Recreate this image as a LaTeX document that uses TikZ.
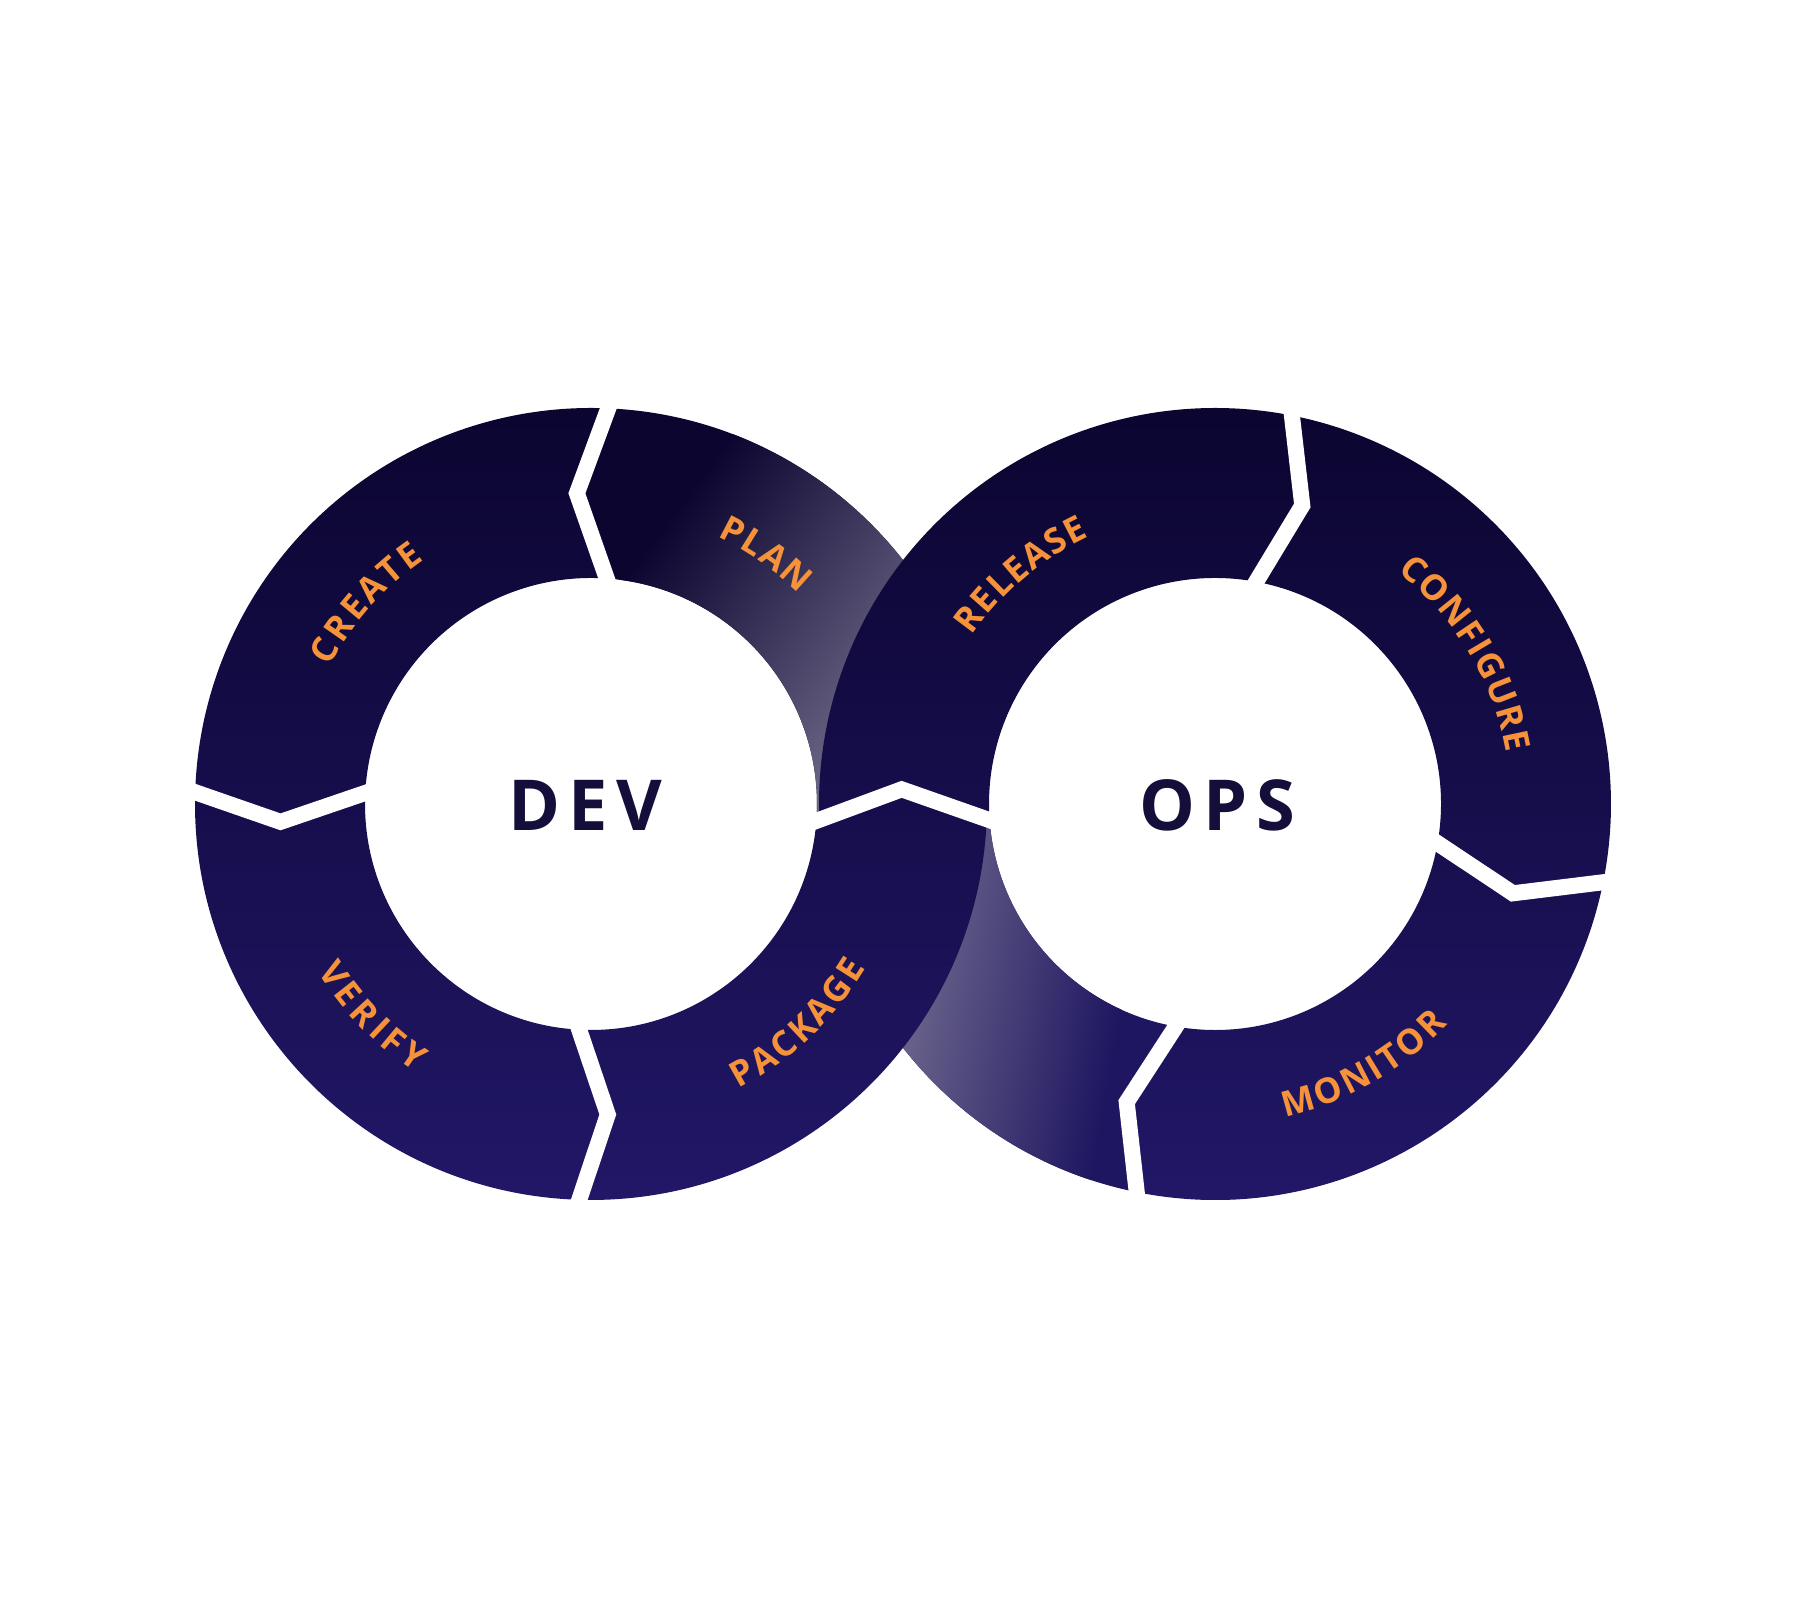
\documentclass[tikz,border=0pt]{standalone}
\usepackage{fontspec}
\setmainfont{Open Sans}
\newfontfamily\hubfont[LetterSpace=12]{Open Sans}
\usepackage{tikz}
\usetikzlibrary{calc}
\usetikzlibrary{decorations.text}
\usepackage{xcolor}

\definecolor{ringtop}{HTML}{0B0530}
\definecolor{ringmid}{HTML}{0C0633}
\definecolor{ringbot}{HTML}{211767}
\definecolor{planlight}{HTML}{7D7795}
\definecolor{backlight}{HTML}{6A648C}
\definecolor{backdark}{HTML}{1E1660}
\definecolor{lblorange}{HTML}{F5923A}
\definecolor{hubtext}{HTML}{140E3A}

\newcommand{\Ro}{3.96}
\newcommand{\Ri}{2.26}
\newcommand{\Rm}{3.11}
\newcommand{\labelfont}{\bfseries\fontsize{10}{12}\selectfont}
% piece of a ring between two chevron cuts (outer, middle, inner angles)
\newcommand{\ringpiece}[7]{([shift={(#1)}]#2:\Ro) arc[start angle=#2, end angle=#5, radius=\Ro]
  -- ([shift={(#1)}]#6:\Rm) -- ([shift={(#1)}]#7:\Ri) arc[start angle=#7, end angle=#4, radius=\Ri]
  -- ([shift={(#1)}]#3:\Rm) -- cycle}
\newcommand{\ringcut}[4]{\draw[cutline] ($([shift={(#1)}]#3:\Rm)!1.2!([shift={(#1)}]#2:\Ro)$)
  -- ([shift={(#1)}]#3:\Rm) -- ($([shift={(#1)}]#3:\Rm)!1.2!([shift={(#1)}]#4:\Ri)$);}
\newcommand{\ringlabel}[5]{\path[decorate, decoration={text along path, text={|\labelfont|#5},
  text align={fit to path}, text color=lblorange}]
  ([shift={(#1)}]#2:#4) arc[start angle=#2, end angle=#3, radius=#4];}

\tikzset{
  cutline/.style={white, line width=0.16cm, line join=miter},
  hub/.style={text=hubtext, font=\hubfont\bfseries\fontsize{20}{24}\selectfont, inner sep=0pt}
}

\begin{document}
\begin{tikzpicture}
\useasboundingbox (0,0) rectangle (18,16);
\coordinate (L) at (5.91,7.96);
\coordinate (R) at (12.15,7.96);

% plan, fading towards the crossing
\fill[ringtop] \ringpiece{L}{-2.2}{2.7}{-4.3}{87.5}{92.6}{86};
\begin{scope}
\clip \ringpiece{L}{-2.2}{2.7}{-4.3}{87.5}{92.6}{86};
\begin{scope}[transform canvas={rotate around={-37:(6.60,9.33)}}]
\shade[left color=ringtop, right color=planlight] (5.78,4.3) rectangle (9.20,14.3);
\fill[planlight] (9.20,4.3) rectangle (12.5,14.3);
\end{scope}
\end{scope}

% way back, under package
\fill[backdark] \ringpiece{R}{-101.4}{-106.5}{-100}{-177.5}{-182.8}{-176.2};
\begin{scope}
\clip \ringpiece{R}{-101.4}{-106.5}{-100}{-177.5}{-182.8}{-176.2};
\begin{scope}[transform canvas={rotate around={-10:(9.30,5.63)}}]
\fill[backlight] (6.5,1) rectangle (9.0,10.5);
\shade[left color=backlight, right color=backdark] (9.0,1) rectangle (11.14,10.5);
\end{scope}
\end{scope}

% dark pieces
\begin{scope}
\clip \ringpiece{L}{87.5}{92.6}{86}{178.3}{183.3}{177.2}
      \ringpiece{L}{178.3}{183.3}{177.2}{268.3}{273.1}{267}
      \ringpiece{L}{268.3}{273.1}{267}{357.8}{362.7}{355.7}
      \ringpiece{R}{182.5}{177.2}{183.8}{78.8}{73.7}{79.5}
      \ringpiece{R}{78.8}{73.7}{79.5}{-11.4}{-16.7}{-10}
      \ringpiece{R}{-11.4}{-16.7}{-10}{-101.4}{-106.5}{-100};
\shade[top color=ringtop, middle color=ringmid, bottom color=ringbot] (1.9,4.0) rectangle (16.2,11.93);
\end{scope}

\ringcut{L}{87.5}{92.6}{86}
\ringcut{L}{178.3}{183.3}{177.2}
\ringcut{L}{268.3}{273.1}{267}
\ringcut{L}{-2.2}{2.7}{-4.3}
\ringcut{R}{78.8}{73.7}{79.5}
\ringcut{R}{-11.4}{-16.7}{-10}
\ringcut{R}{258.6}{253.5}{260}

\ringlabel{L}{152.2}{124.3}{2.955}{CREATE}
\ringlabel{L}{64.6}{45.3}{2.955}{PLAN}
\ringlabel{L}{211.4}{236.8}{3.205}{VERIFY}
\ringlabel{L}{297.4}{329.2}{3.205}{PACKAGE}
\ringlabel{R}{145.3}{115.2}{2.955}{RELEASE}
\ringlabel{R}{51.9}{10.0}{2.955}{CONFIGURE}
\ringlabel{R}{282.6}{316.5}{3.205}{MONITOR}

\node[hub] (dev) at (5.85,7.95) {DEV};
\node[hub] (ops) at (12.17,7.95) {OPS};
\end{tikzpicture}
\end{document}
